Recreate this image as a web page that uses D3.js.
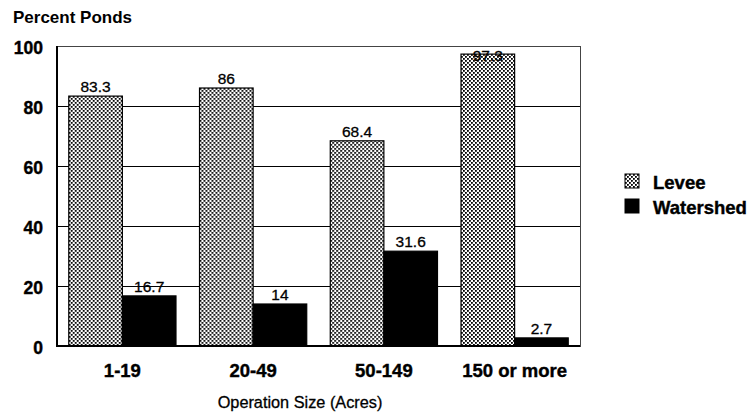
<!DOCTYPE html>
<html><head><meta charset="utf-8">
<script src="https://cdn.jsdelivr.net/npm/d3@7"></script>
<style>body{margin:0;background:#fff}svg{display:block;font-family:"Liberation Sans",Arial,sans-serif}</style>
</head><body><svg id="c" width="755" height="415"></svg>
<script>
const categories = ["1-19", "20-49", "50-149", "150 or more"];
const seriesNames = ["Levee", "Watershed"];
const levee = [83.3, 86, 68.4, 97.3];
const watershed = [16.7, 14, 31.6, 2.7];
const yTicks = [0, 20, 40, 60, 80, 100];
const yTitle = "Percent Ponds";
const xTitle = "Operation Size (Acres)";

const svg = d3.select("#c");
const L = 57, R = 580, T = 46, B = 346;
const x = d3.scaleBand().domain(categories).range([L, R]).paddingInner(0.18).paddingOuter(0.09);
const xs = d3.scaleBand().domain(seriesNames).range([0, x.bandwidth()]);
const y = d3.scaleLinear().domain([0, 100]).range([B, T]);

const defs = svg.append("defs");
const pat = defs.append("pattern").attr("id", "dots").attr("patternUnits", "userSpaceOnUse")
  .attr("width", 4).attr("height", 4);
pat.append("rect").attr("width", 4).attr("height", 4).attr("fill", "#fff");
pat.append("rect").attr("x", 0).attr("y", 0).attr("width", 1.8).attr("height", 1.8).attr("fill", "#000");
pat.append("rect").attr("x", 2).attr("y", 2).attr("width", 1.8).attr("height", 1.8).attr("fill", "#000");
const fills = {Levee: "url(#dots)", Watershed: "#000"};

// frame & gridlines
svg.append("rect").attr("x", L).attr("y", T).attr("width", R - L).attr("height", B - T)
  .attr("fill", "none").attr("stroke", "#444").attr("stroke-width", 1).attr("shape-rendering", "crispEdges");
svg.append("g").selectAll("line").data(yTicks.filter(d => d > 0 && d < 100)).join("line")
  .attr("x1", L).attr("x2", R).attr("y1", d => Math.round(y(d)) + 0.5).attr("y2", d => Math.round(y(d)) + 0.5)
  .attr("stroke", "#000").attr("stroke-width", 1);

// bars
const rows = categories.map((c, i) => ({c, vals: [{s: "Levee", v: levee[i]}, {s: "Watershed", v: watershed[i]}]}));
const g = svg.append("g").selectAll("g").data(rows).join("g").attr("transform", d => `translate(${x(d.c)},0)`);
g.selectAll("rect").data(d => d.vals).join("rect")
  .attr("x", d => xs(d.s)).attr("width", xs.bandwidth())
  .attr("y", d => y(d.v)).attr("height", d => B - y(d.v))
  .attr("fill", d => fills[d.s]).attr("stroke", "#000").attr("stroke-width", 1.2);
g.selectAll("text").data(d => d.vals).join("text")
  .attr("x", d => xs(d.s) + xs.bandwidth() / 2)
  .attr("y", d => Math.max(y(d.v) - 4, T + 15))
  .attr("text-anchor", "middle").attr("font-size", 15.5).attr("fill", "#000")
  .attr("stroke", "#000").attr("stroke-width", 0.3)
  .text(d => d.v);

// axes
svg.append("line").attr("x1", L).attr("x2", L).attr("y1", T).attr("y2", B + 1).attr("stroke", "#000").attr("stroke-width", 2);
svg.append("line").attr("x1", L - 1).attr("x2", R).attr("y1", B).attr("y2", B).attr("stroke", "#000").attr("stroke-width", 2);

const yAxis = d3.axisLeft(y).tickValues(yTicks).tickSize(0).tickPadding(14);
const ya = svg.append("g").attr("transform", `translate(${L},0)`).call(yAxis);
ya.select(".domain").remove();
ya.selectAll("text").attr("font-size", 17.5).attr("font-weight", "bold").attr("font-family", "Liberation Sans, Arial, sans-serif")
  .attr("dy", "0.42em").attr("fill", "#000").attr("stroke", "#000").attr("stroke-width", 0.4);

const xAxis = d3.axisBottom(x).tickSize(0).tickPadding(0);
const xa = svg.append("g").attr("transform", `translate(0,${B})`).call(xAxis);
xa.select(".domain").remove();
xa.selectAll("text").attr("font-size", 18.5).attr("font-weight", "bold").attr("font-family", "Liberation Sans, Arial, sans-serif")
  .attr("dy", null).attr("y", 31).attr("fill", "#000").attr("stroke", "#000").attr("stroke-width", 0.4);

svg.append("text").attr("x", 13).attr("y", 23).attr("font-size", 17).attr("font-weight", "bold").text(yTitle);
svg.append("text").attr("x", 300).attr("y", 408).attr("text-anchor", "middle").attr("font-size", 16.3)
  .attr("stroke", "#000").attr("stroke-width", 0.3).text(xTitle);

// legend
const lg = svg.append("g").selectAll("g").data(seriesNames).join("g")
  .attr("transform", (d, i) => `translate(625,${174 + i * 25})`);
lg.append("rect").attr("width", 14).attr("height", 14).attr("fill", d => fills[d]).attr("stroke", "#000").attr("stroke-width", 1);
lg.append("text").attr("x", 28).attr("y", 15).attr("font-size", 18.5).attr("font-weight", "bold")
  .attr("stroke", "#000").attr("stroke-width", 0.4).text(d => d);
</script></body></html>
